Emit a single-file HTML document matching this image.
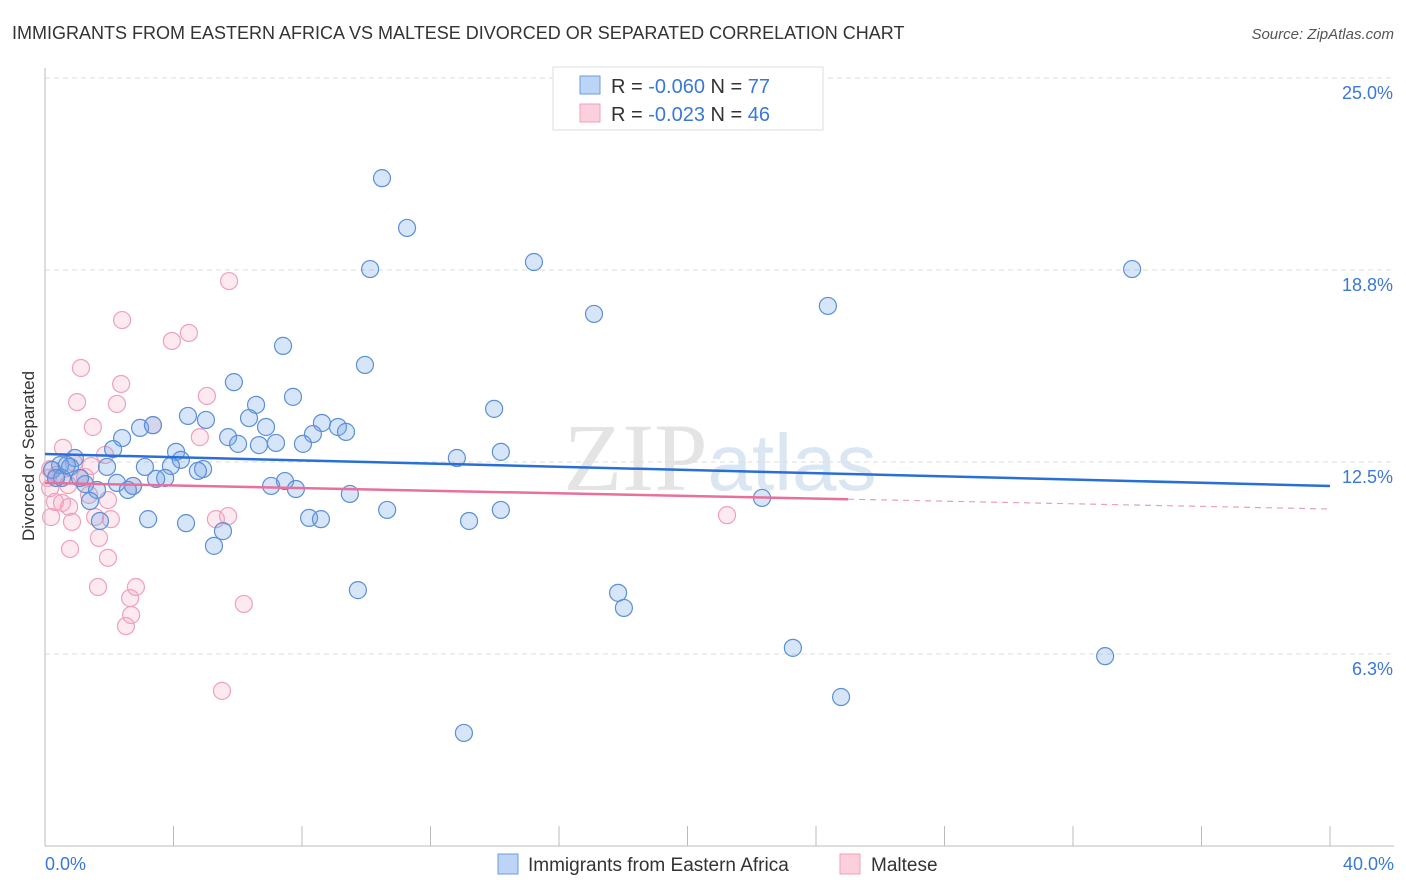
<!DOCTYPE html>
<html><head><meta charset="utf-8"><style>
body{margin:0;background:#fff;font-family:"Liberation Sans",sans-serif;}
svg{display:block}
</style></head><body>
<svg id="chart" width="1406" height="892" xmlns="http://www.w3.org/2000/svg">
<text x="12" y="39" font-size="18" fill="#333">IMMIGRANTS FROM EASTERN AFRICA VS MALTESE DIVORCED OR SEPARATED CORRELATION CHART</text>
<text x="1394" y="39" font-size="15" fill="#555" font-style="italic" text-anchor="end">Source: ZipAtlas.com</text>
<text x="720" y="490" font-size="96" fill="#e4e4e4" text-anchor="middle" font-family="Liberation Serif,serif">ZIP<tspan fill="#dbe6f3" font-family="Liberation Sans,sans-serif" font-size="80">atlas</tspan></text>
<g id="grid"></g><g id="axes"></g><g id="pts"></g><g id="trends"></g>
<text transform="translate(34,456) rotate(-90)" font-size="17" fill="#333" text-anchor="middle">Divorced or Separated</text>
<g>
<rect x="553" y="67" width="270" height="63" fill="#fff" stroke="#ddd"/>
<rect x="580" y="76" width="20" height="18" fill="#bcd4f5" stroke="#6d9be0"/>
<rect x="580" y="104" width="20" height="18" fill="#fbcfdc" stroke="#f0a0b8"/>
<text x="611" y="93" font-size="20" fill="#333">R = <tspan fill="#3a78d8">-0.060</tspan>   N = <tspan fill="#3a78d8">77</tspan></text>
<text x="611" y="121" font-size="20" fill="#333">R = <tspan fill="#3a78d8">-0.023</tspan>   N = <tspan fill="#3a78d8">46</tspan></text>
</g>
<g>
<rect x="498" y="854" width="20" height="20" fill="#bcd4f5" stroke="#6d9be0"/>
<text x="528" y="871" font-size="19" fill="#333">Immigrants from Eastern Africa</text>
<rect x="840" y="854" width="20" height="20" fill="#fbcfdc" stroke="#f0a0b8"/>
<text x="871" y="871" font-size="19" fill="#333">Maltese</text>
</g>
</svg>
<script>
const blueX=[10.49,11.27,10.12,15.22,33.84,17.09,24.37,7.41,9.96,5.88,7.72,6.57,13.98,4.45,6.35,5.01,8.62,6.88,2.96,3.36,9.12,9.37,8.34,2.40,5.70,6.01,7.19,8.03,6.66,2.12,4.08,14.19,12.82,0.93,4.23,0.47,0.78,3.11,1.93,3.92,4.92,4.76,0.22,3.74,3.46,0.53,1.25,2.24,2.74,7.47,7.04,7.81,1.62,2.58,9.49,22.32,1.40,10.65,14.19,8.22,8.59,3.21,4.39,13.20,1.71,5.54,5.26,9.74,17.84,18.02,23.28,33.00,24.78,13.04,0.34,0.68,1.09];
const blueY=[21.74,20.12,18.78,19.01,18.78,17.32,17.58,16.28,15.66,15.10,14.62,14.36,14.23,14.00,13.93,13.87,13.77,13.64,13.61,13.70,13.64,13.48,13.41,13.28,13.31,13.09,13.12,13.09,13.05,12.92,12.83,12.83,12.63,12.63,12.57,12.40,12.34,12.34,12.34,12.37,12.27,12.21,12.24,11.98,11.95,11.98,11.78,11.82,11.72,11.88,11.72,11.62,11.59,11.59,11.46,11.33,11.23,10.94,10.94,10.68,10.64,10.64,10.51,10.58,10.58,10.25,9.77,8.33,8.24,7.75,6.45,6.18,4.85,3.68,11.98,12.40,11.98];
const pinkX=[5.73,2.40,4.48,3.95,1.12,2.37,1.00,2.24,5.04,1.49,3.36,4.82,0.56,1.87,0.90,1.43,0.16,0.37,1.09,1.25,0.72,0.16,1.37,1.96,0.31,0.53,0.75,1.56,2.05,0.19,0.84,5.32,5.70,1.68,0.78,1.96,1.65,2.83,2.65,2.68,2.52,6.19,5.51,21.23,0.09,2.74];
const pinkY=[18.39,17.12,16.70,16.44,15.56,15.04,14.45,14.39,14.65,13.64,13.70,13.31,12.96,12.73,12.47,12.37,12.27,12.08,11.98,12.01,11.75,11.65,11.43,11.26,11.20,11.17,11.04,10.71,10.64,10.71,10.55,10.64,10.74,10.03,9.67,9.38,8.43,8.43,8.07,7.52,7.16,7.88,5.05,10.77,11.98,11.72];
const yTicks=[25,18.75,12.5,6.25];
const yTickLabels=["25.0%","18.8%","12.5%","6.3%"];
const blueTrend=[12.76,11.72];
const pinkTrend=[11.82,10.97];
const pinkSolidEnd=25;
const NS="http://www.w3.org/2000/svg";
const X=v=>45+v/40*1285, Y=v=>846-v/25*768;
function mk(t,a,p){const e=document.createElementNS(NS,t);for(const k in a)e.setAttribute(k,a[k]);p.appendChild(e);return e;}
const grid=document.getElementById('grid'),axes=document.getElementById('axes'),pts=document.getElementById('pts'),tr=document.getElementById('trends');
yTicks.forEach((t,i)=>{
 const l=mk('line',{x1:45,x2:1394,y1:Y(t),y2:Y(t),stroke:'#ddd','stroke-dasharray':'5,4'},grid);
 
 
 const tx=mk('text',{x:1393,y:Y(t)+21,'font-size':18,fill:'#3a78d8','text-anchor':'end'},axes);
 tx.textContent=yTickLabels[i];
 
 
});
mk('line',{x1:45,x2:45,y1:68,y2:846,stroke:'#bbb'},axes);
mk('line',{x1:45,x2:1394,y1:846,y2:846,stroke:'#bbb'},axes);
for(let k=0;k<=10;k++){mk('line',{x1:X(k*4),x2:X(k*4),y1:826,y2:846,stroke:'#bbb'},axes);}
const xl=mk('text',{x:45,y:870,'font-size':18,fill:'#3a78d8'},axes);xl.textContent='0.0%';


const xr=mk('text',{x:1394,y:870,'font-size':18,fill:'#3a78d8','text-anchor':'end'},axes);xr.textContent='40.0%';


pinkX.forEach((v,i)=>{const c=mk('circle',{cx:X(v),cy:Y(pinkY[i]),r:8.5,fill:'rgba(245,160,190,0.22)',stroke:'#f0a0b8','stroke-width':1.2},pts);
 
 });
blueX.forEach((v,i)=>{const c=mk('circle',{cx:X(v),cy:Y(blueY[i]),r:8.5,fill:'rgba(110,160,230,0.28)',stroke:'#5b8fd8','stroke-width':1.2},pts);
 
 });
const bt=mk('line',{x1:X(0),y1:Y(blueTrend[0]),x2:X(40),y2:Y(blueTrend[1]),stroke:'#2a6fd6','stroke-width':2.5},tr);


const pm=pinkTrend[0]+(pinkTrend[1]-pinkTrend[0])*pinkSolidEnd/40;
const pt=mk('line',{x1:X(0),y1:Y(pinkTrend[0]),x2:X(pinkSolidEnd),y2:Y(pm),stroke:'#e8709a','stroke-width':2.5},tr);


const pd=mk('line',{x1:X(pinkSolidEnd),y1:Y(pm),x2:X(40),y2:Y(pinkTrend[1]),stroke:'#e8a0b8','stroke-width':1.2,'stroke-dasharray':'6,5'},tr);


</script>
</body></html>
